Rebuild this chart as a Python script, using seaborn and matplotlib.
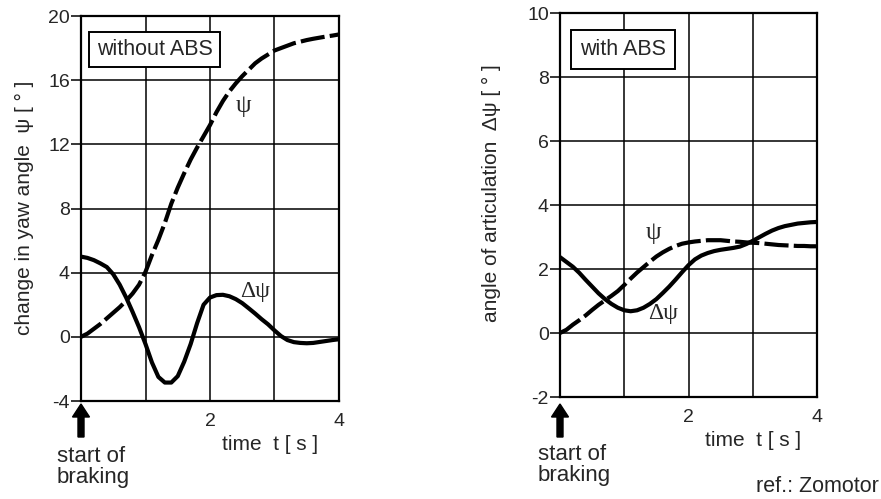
import numpy as np
import pandas as pd
import seaborn as sns
import matplotlib
matplotlib.use("Agg")
import matplotlib.pyplot as plt
from matplotlib.patches import FancyArrow

# ---------------- data ----------------
t = [0.0, 0.1, 0.2, 0.3, 0.4, 0.5, 0.6, 0.7, 0.8, 0.9, 1.0,
     1.1, 1.2, 1.3, 1.4, 1.5, 1.6, 1.7, 1.8, 1.9, 2.0,
     2.1, 2.2, 2.3, 2.4, 2.5, 2.6, 2.7, 2.8, 2.9, 3.0,
     3.1, 3.2, 3.3, 3.4, 3.5, 3.6, 3.7, 3.8, 3.9, 4.0]

# without ABS: yaw angle change psi and articulation angle delta-psi
psi_noabs = [0.0, 0.2, 0.5, 0.8, 1.15, 1.5, 1.85, 2.25, 2.7, 3.25, 4.05,
             5.1, 6.05, 7.1, 8.3, 9.3, 10.2, 11.05, 11.8, 12.5, 13.2,
             14.0, 14.7, 15.3, 15.8, 16.25, 16.65, 17.05, 17.35, 17.6, 17.85,
             18.0, 18.15, 18.3, 18.4, 18.5, 18.58, 18.65, 18.72, 18.78, 18.85]
dpsi_noabs = [5.0, 4.92, 4.78, 4.58, 4.35, 3.9, 3.25, 2.45, 1.55, 0.6, -0.45,
              -1.6, -2.5, -2.85, -2.85, -2.45, -1.55, -0.45, 0.85, 2.0, 2.45,
              2.6, 2.62, 2.53, 2.35, 2.1, 1.78, 1.45, 1.1, 0.78, 0.4,
              0.05, -0.2, -0.33, -0.38, -0.4, -0.38, -0.32, -0.26, -0.2, -0.15]

# with ABS
psi_abs = [0.0, 0.1, 0.26, 0.4, 0.55, 0.72, 0.88, 1.02, 1.16, 1.31, 1.5,
           1.7, 1.89, 2.06, 2.23, 2.39, 2.52, 2.63, 2.72, 2.79, 2.83,
           2.86, 2.88, 2.9, 2.9, 2.9, 2.88, 2.86, 2.85, 2.83, 2.82,
           2.81, 2.79, 2.77, 2.75, 2.74, 2.73, 2.72, 2.72, 2.71, 2.71]
dpsi_abs = [2.37, 2.22, 2.07, 1.88, 1.66, 1.45, 1.24, 1.06, 0.91, 0.79, 0.71,
            0.68, 0.71, 0.79, 0.91, 1.06, 1.25, 1.45, 1.67, 1.9, 2.12,
            2.3, 2.42, 2.5, 2.56, 2.6, 2.63, 2.66, 2.7, 2.78, 2.88,
            2.99, 3.1, 3.2, 3.28, 3.34, 3.38, 3.42, 3.44, 3.46, 3.47]

left_yticks = [-4, 0, 4, 8, 12, 16, 20]
right_yticks = [-2, 0, 2, 4, 6, 8, 10]
xgrid = [1, 2, 3]
xtick_labels = [2, 4]

panel_titles = ["without ABS", "with ABS"]
ylabels = ["change in yaw angle  ψ [ ° ]", "angle of articulation  Δψ [ ° ]"]
xlabel = "time  t [ s ]"

# ---------------- style ----------------
sns.set_style("white")
plt.rcParams['font.family'] = ['Liberation Sans', 'DejaVu Sans']

fig = plt.figure(figsize=(8.81, 4.99), dpi=100)
axL = fig.add_axes([81/881, 1-401/499, 258/881, 385/499])
axR = fig.add_axes([560/881, 1-397/499, 257/881, 384/499])

df_l = pd.DataFrame({"t": t, "psi": psi_noabs, "dpsi": dpsi_noabs})
df_r = pd.DataFrame({"t": t, "psi": psi_abs, "dpsi": dpsi_abs})

LW = 3.0
DASH = (5.8, 1.25)
TICKFS = 14
LABFS = 15


def setup(ax, yticks, ymin, ymax):
    ax.set_xlim(0, 4)
    ax.set_ylim(ymin, ymax)
    for v in xgrid:
        ax.axvline(v, color="black", lw=1.1, zorder=1)
    for v in yticks[1:-1]:
        ax.axhline(v, color="black", lw=1.1, zorder=1)
    ax.set_yticks(yticks)
    ax.set_yticklabels([str(v) for v in yticks])
    ax.set_xticks(xtick_labels)
    ax.set_xticklabels([str(v) for v in xtick_labels])
    ax.tick_params(axis="y", left=True, length=7, width=1.1, pad=1,
                   color="black", labelsize=TICKFS)
    ax.tick_params(axis="x", bottom=False, pad=5, labelsize=TICKFS)
    for s in ax.spines.values():
        s.set_color("black")
        s.set_linewidth(1.6)
        s.set_visible(True)
    ax.grid(False)
    ax.set_xlabel("")
    ax.set_ylabel("")


for ax, df in [(axL, df_l), (axR, df_r)]:
    sns.lineplot(data=df, x="t", y="dpsi", ax=ax, color="black", lw=LW,
                 zorder=3, estimator=None)
    sns.lineplot(data=df, x="t", y="psi", ax=ax, color="black", lw=LW,
                 zorder=3, estimator=None)
    ax.lines[-1].set_dashes(DASH)
    ax.lines[-1].set_dash_capstyle("butt")

setup(axL, left_yticks, -4, 20)
setup(axR, right_yticks, -2, 10)

# y labels
fig.text(24/881, 1-208/499, ylabels[0], rotation=90, ha="center", va="center", fontsize=LABFS)
fig.text(491/881, 1-193/499, ylabels[1], rotation=90, ha="center", va="center", fontsize=LABFS)

# x labels
fig.text(270/881, 1-445/499, xlabel, ha="center", va="center", fontsize=LABFS)
fig.text(753/881, 1-441/499, xlabel, ha="center", va="center", fontsize=LABFS)

# boxes
axL.text(1.14, 17.9, panel_titles[0], fontsize=15.5, ha="center", va="center",
         bbox=dict(boxstyle="square,pad=0.33", fc="white", ec="black", lw=1.4), zorder=5)
axR.text(0.98, 8.86, panel_titles[1], fontsize=15.5, ha="center", va="center",
         bbox=dict(boxstyle="square,pad=0.4", fc="white", ec="black", lw=1.4), zorder=5)

# curve labels
GREEK = ['Liberation Serif', 'DejaVu Serif']
axL.text(2.52, 14.4, "ψ", fontsize=18, ha="center", va="center", family=GREEK)
axL.text(2.7, 2.85, "Δψ", fontsize=17, ha="center", va="center", family=GREEK)
axR.text(1.45, 3.11, "ψ", fontsize=18, ha="center", va="center", family=GREEK)
axR.text(1.61, 0.62, "Δψ", fontsize=17, ha="center", va="center", family=GREEK)

# start of braking arrows and text
for xa, xt, yt in [(81, 57, 467), (560, 538, 465)]:
    fig.patches.append(FancyArrow(
        xa/881, 1-437/499, 0, 33/499, width=6/881, head_width=17/881,
        head_length=13/499, length_includes_head=True, color="black",
        transform=fig.transFigure, figure=fig))
    fig.text(xt/881, 1-yt/499, "start of\nbraking", ha="left", va="center",
             fontsize=16, linespacing=0.95)

fig.text(879/881, 1-487/499, "ref.: Zomotor", ha="right", va="center", fontsize=15.5)

fig.savefig("out.png", dpi=100, facecolor="white")
